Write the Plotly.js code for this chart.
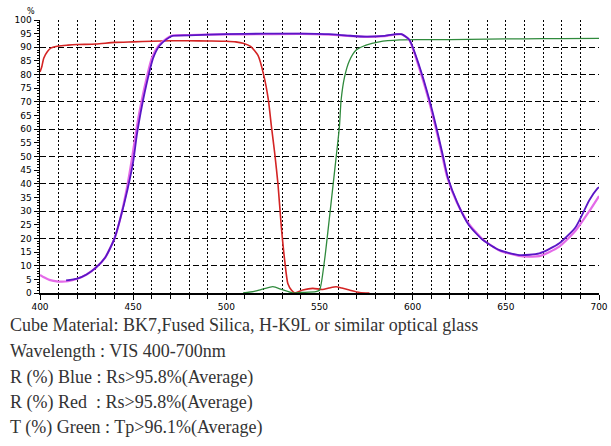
<!DOCTYPE html>
<html>
<head>
<meta charset="utf-8">
<script src="https://cdn.plot.ly/plotly-3.0.1.min.js"></script>
<style>html,body{margin:0;padding:0;background:#fff;}#chart{width:611px;height:446px;}</style>
</head>
<body>
<div id="chart"></div>
<script>
// Red reflection curve
const redX = [400,401,402,404,406,410,415,420,430,440,450,460,470,480,490,500,505,509,513,517,520,522.5,524.2,526,527.7,529.5,531.3,533,535,536.6,541,546.4,551.6,555,558.9,562,566,571.5,576.8];
const redY = [81,83,86,88.5,89.8,90.5,90.8,91,91.2,91.8,92,92.2,92.4,92.4,92.3,92.2,92,91.5,90.3,87,80,71,61,51,40,24.3,12,3.5,1,0.1,1.1,1.7,1.3,1.8,2.3,1.8,1.1,0.2,0];

// Green transmission curve
const greenX = [509,515,520,525,530,535.7,540,548,550,552.7,555.4,558,559.3,560.7,561.6,563.4,566,569.7,575,582,593,604,620,640,660,680,700];
const greenY = [0,0.6,1.5,2.3,1.2,0,0.2,0.5,1,12,28,44,52,61,70.7,79,85,89,90.8,92,92.7,92.8,92.8,93,93.1,93.2,93.3];

// Magenta curve
const magX = [400,402,405,410,415,420,425,430,435,440,443,446.5,449.3,451.3,453.3,456.3,460,463.5,467.5,471,480,500,520,540,555,565,575,585,591,594,598,603,608.5,612,615.5,618.5,623.5,630,637.7,646.6,657,668,678.7,687.6,694.8,700];
const magY = [6.6,5.8,4.8,4.2,4.3,5.2,6.8,9.3,13,20,27,38,49,58,66,76,86,90.5,93,94.3,94.5,94.7,94.8,94.9,94.6,94.2,93.8,94.1,94.7,94.8,92.9,83.5,71,61.5,51.5,42.5,33.5,25.5,19.6,15.6,13.6,13.5,17,23,30,35.5];

// Purple (blue reflection) curve
const purX = [414,420,425,430,435,440,443,447,450,452,454,457,460.7,464,468,471,480,500,520,540,555,565,575,585,591,594,598.3,603.7,609,612.6,616,619,624,630,637.7,646.6,657.3,668,678.7,687.6,694.8,699.2,700];
const purY = [4.6,5.3,6.8,9.3,13,20,27,38,48,58,66,76,86,90.5,93,94.2,94.4,94.8,95,95,94.8,94.3,93.9,94.2,94.8,94.8,92.7,82.9,70.7,61,51,42,33,25,19.4,15.7,13.9,14.5,18.2,24.3,34,38.3,38.8];

const xTicks = [400,450,500,550,600,650,700];
const yTicks = [0,5,10,15,20,25,30,35,40,45,50,55,60,65,70,75,80,85,90,95,100];

const textLines = [
  "Cube Material: BK7,Fused Silica, H-K9L or similar optical glass",
  "Wavelength : VIS 400-700nm",
  "R (%) Blue : Rs>95.8%(Average)",
  "R (%) Red&nbsp;&nbsp;: Rs>95.8%(Average)",
  "T (%) Green : Tp>96.1%(Average)"
];
const textLineY = [-0.117, -0.2125, -0.3077, -0.3993, -0.4945];

const traces = [
  {x: redX, y: redY, type:'scatter', mode:'lines', line:{color:'#d42424', width:1.6, shape:'spline', smoothing:0.6}, hoverinfo:'skip'},
  {x: greenX, y: greenY, type:'scatter', mode:'lines', line:{color:'#2f8a3c', width:1.3, shape:'spline', smoothing:0.6}, hoverinfo:'skip'},
  {x: magX, y: magY, type:'scatter', mode:'lines', line:{color:'#e46ae8', width:2.2, shape:'spline', smoothing:0.6}, hoverinfo:'skip'},
  {x: purX, y: purY, type:'scatter', mode:'lines', line:{color:'#5a16c6', width:1.8, shape:'spline', smoothing:0.6}, hoverinfo:'skip'}
];

const tickFont = {family:'DejaVu Sans', size:9, color:'#000'};

const annotations = textLines.map((t,i)=>({
  text: t, xref:'paper', yref:'paper', x:-0.0572, y:textLineY[i],
  xanchor:'left', yanchor:'middle', showarrow:false,
  font:{family:'Liberation Serif', size:18, color:'#333'}
}));
annotations.push({text:'%', xref:'paper', yref:'paper', x:-0.016, y:1.03, xanchor:'center', yanchor:'middle', showarrow:false, font:{family:'DejaVu Sans', size:8, color:'#000'}});

const layout = {
  width:611, height:446,
  margin:{l:40, r:12, t:20, b:153, pad:0},
  paper_bgcolor:'#fff', plot_bgcolor:'#fff',
  showlegend:false,
  xaxis:{
    range:[400,700], tickvals:xTicks, ticktext:xTicks.map(String),
    showgrid:true, gridcolor:'#000', gridwidth:1, griddash:'2px,2px',
    showline:true, linecolor:'#000', linewidth:1.5,
    ticks:'outside', ticklen:5, tickcolor:'#000', tickfont:tickFont,
    minor:{dtick:10, tick0:400, showgrid:true, gridcolor:'#000', gridwidth:1, griddash:'2px,2px', ticks:'outside', ticklen:4, tickcolor:'#000'},
    zeroline:false, fixedrange:true
  },
  yaxis:{
    range:[0,100], tickvals:yTicks, ticktext:yTicks.map(String),
    showgrid:false,
    showline:true, linecolor:'#000', linewidth:1.5,
    ticks:'outside', ticklen:5, tickcolor:'#000', tickfont:tickFont,
    minor:{dtick:1, tick0:0, ticks:'outside', ticklen:2, tickcolor:'#000', showgrid:false},
    zeroline:false, fixedrange:true
  },
  yaxis2:{
    overlaying:'y', range:[0,100], dtick:10, tick0:0,
    showgrid:true, gridcolor:'#000', gridwidth:1, griddash:'6px,3px',
    showticklabels:false, ticks:'', showline:false, zeroline:false, fixedrange:true
  },
  annotations: annotations
};

// dummy trace to activate yaxis2 gridlines (no visible marks)
traces.unshift({x:[400], y:[0], yaxis:'y2', type:'scatter', mode:'markers', marker:{opacity:0}, hoverinfo:'skip'});

Plotly.newPlot('chart', traces, layout, {displayModeBar:false, staticPlot:true});
</script>
</body>
</html>
